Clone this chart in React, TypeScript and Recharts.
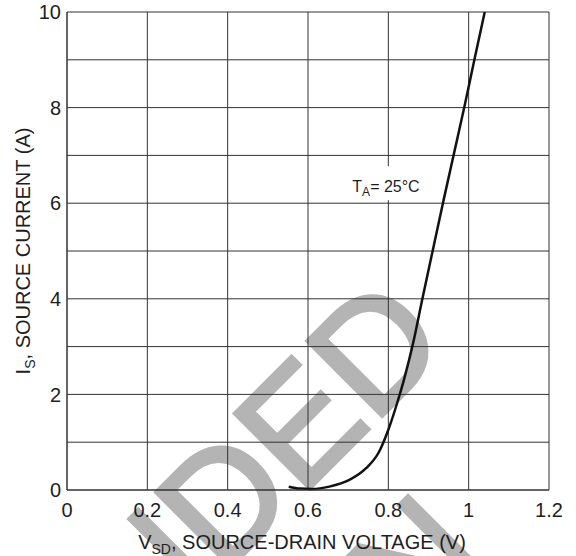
import React from 'react';
import {
    LineChart,
    Line,
    XAxis,
    YAxis,
    CartesianGrid,
    ReferenceDot,
    Label,
} from 'recharts';

// source-drain diode forward characteristic, T_A = 25 C
const vsd = [0.552, 0.58, 0.61, 0.653, 0.703, 0.744, 0.777, 0.8, 0.822, 0.839, 0.863, 0.884, 0.909, 0.938, 0.965, 0.991, 1.015, 1.04];
const isrc = [0.07, 0.03, 0.02, 0.07, 0.21, 0.45, 0.8, 1.26, 1.82, 2.31, 3.12, 3.97, 4.95, 6.08, 7.1, 8.08, 9.03, 10.0];

const xTicks = [0, 0.2, 0.4, 0.6, 0.8, 1, 1.2];
const yTicks = [0, 2, 4, 6, 8, 10];
const yGrid = [0, 1, 2, 3, 4, 5, 6, 7, 8, 9, 10];

const data = vsd.map((v, i) => ({ v, i: isrc[i] }));

const FONT = '"Liberation Sans", Arial, Helvetica, sans-serif';
const INK = '#1e1e1e';
const GRID = '#333';

const tickStyle = { fontSize: 20, fill: INK, fontFamily: FONT };

const XTitle = (props: any) => {
    const { viewBox } = props;
    const cx = viewBox.x + viewBox.width / 2 - 6;
    return (
        <text x={cx} y={549} textAnchor="middle" fontFamily={FONT} fontSize={20} fill={INK}>
            <tspan>V</tspan>
            <tspan fontSize={14} dy={5}>SD</tspan>
            <tspan dy={-5}>, SOURCE-DRAIN VOLTAGE (V)</tspan>
        </text>
    );
};

const YTitle = (props: any) => {
    const { viewBox } = props;
    const cy = viewBox.y + viewBox.height / 2;
    const x = 30;
    return (
        <text x={x} y={cy} textAnchor="middle" fontFamily={FONT} fontSize={20} fill={INK}
              transform={`rotate(-90 ${x} ${cy})`}>
            <tspan>I</tspan>
            <tspan fontSize={14} dy={5}>S</tspan>
            <tspan dy={-5}>, SOURCE CURRENT (A)</tspan>
        </text>
    );
};

const TempNote = (props: any) => {
    const { cx, cy } = props;
    return (
        <g>
            <rect x={cx - 38} y={cy - 26} width={76} height={34} fill="#fff" />
            <text x={cx - 36} y={cy} fontFamily={FONT} fontSize={16} fill={INK}>
                <tspan>T</tspan>
                <tspan fontSize={12} dy={4}>A</tspan>
                <tspan dy={-4}>= 25°C</tspan>
            </text>
        </g>
    );
};

export default function App() {
    return (
        <div style={{ position: 'absolute', left: 0, top: 0, width: 576, height: 556, background: '#fff' }}>
            {/* watermark sits behind the chart */}
            <svg width={576} height={556} style={{ position: 'absolute', left: 0, top: 0 }}>
                <g fill="#b4b4b4" stroke="#b4b4b4" strokeWidth={4} fontFamily={FONT} fontSize={154}>
                    <text x={452} y={346} textAnchor="end" transform="rotate(-45 452 346)">NOT RECOMMENDED</text>
                    <text x={492} y={562} textAnchor="end" transform="rotate(-45 492 562)">FOR NEW DESIGN</text>
                </g>
            </svg>
            <div style={{ position: 'absolute', left: 0, top: 0 }}>
                <LineChart width={576} height={556} data={data}
                           margin={{ top: 12, right: 27, left: 0, bottom: 0 }}>
                    <CartesianGrid stroke={GRID} strokeWidth={1}
                                   horizontalValues={yGrid} verticalValues={xTicks} />
                    <XAxis dataKey="v" type="number" domain={[0, 1.2]} ticks={xTicks}
                           tickFormatter={(t: number) => String(t)}
                           tick={tickStyle} tickLine={false} tickSize={0} tickMargin={13}
                           axisLine={{ stroke: GRID }} height={66} interval={0}>
                        <Label content={XTitle} />
                    </XAxis>
                    <YAxis type="number" domain={[0, 10]} ticks={yTicks} width={67}
                           tick={tickStyle} tickLine={false} tickSize={0} tickMargin={6}
                           axisLine={{ stroke: GRID }} interval={0}>
                        <Label content={YTitle} />
                    </YAxis>
                    <ReferenceDot x={0.8} y={6.23} r={0} shape={TempNote} />
                    <Line type="monotone" dataKey="i" stroke="#111" strokeWidth={2.5}
                          dot={false} isAnimationActive={false} />
                </LineChart>
            </div>
        </div>
    );
}
